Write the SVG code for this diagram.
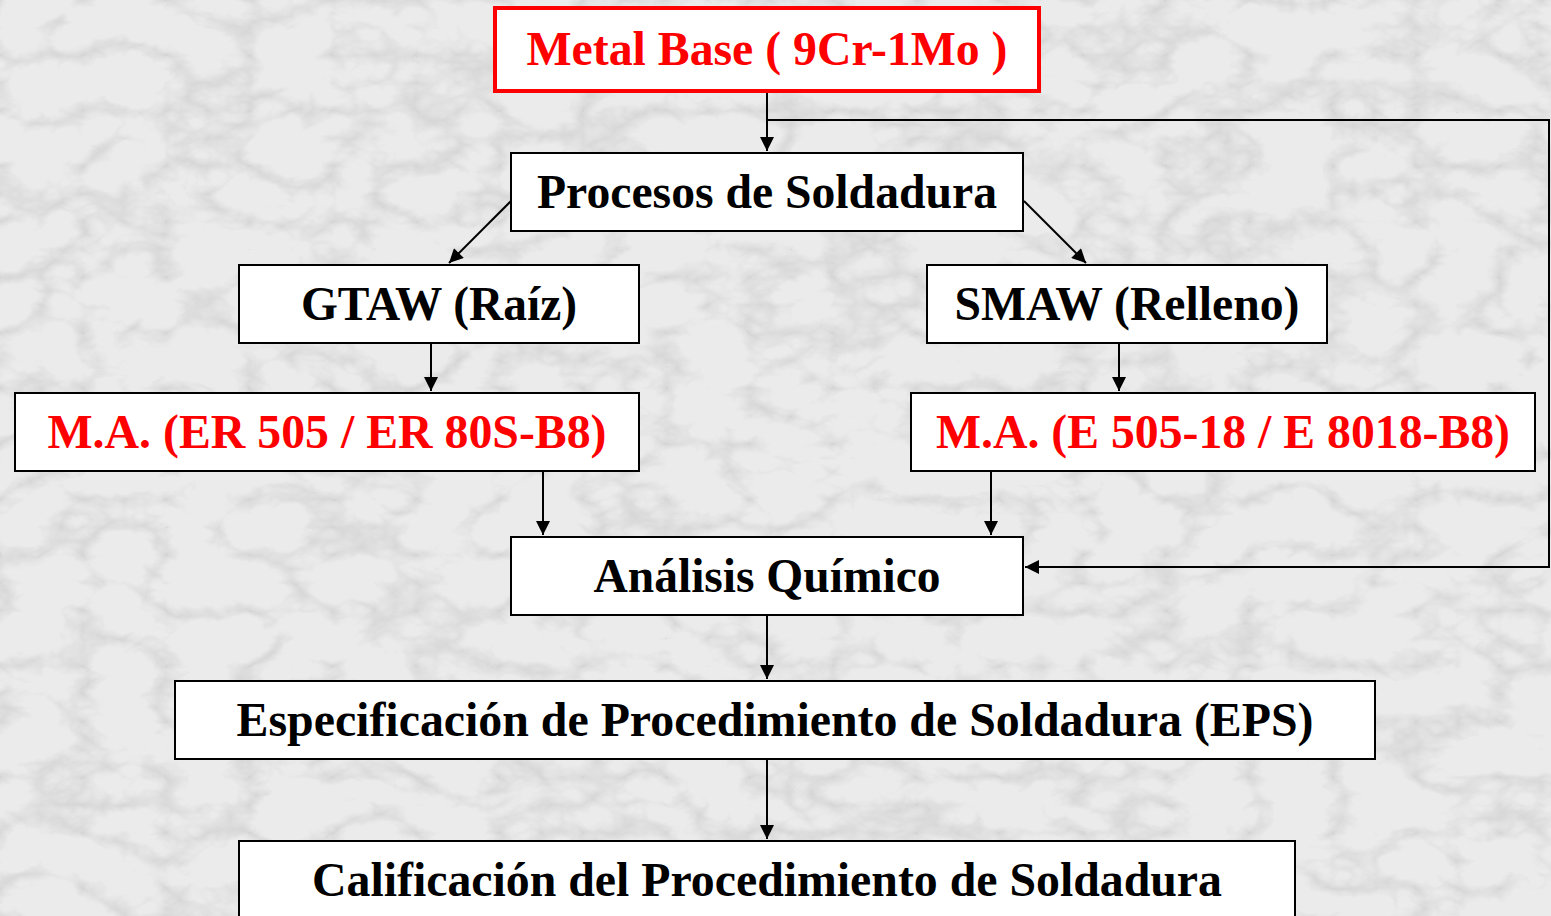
<svg xmlns="http://www.w3.org/2000/svg" width="1551" height="916" viewBox="0 0 1551 916">
<style>
.box{fill:#ffffff;stroke:#000000;stroke-width:2}
.rbox{fill:#ffffff;stroke:#ff0000;stroke-width:4}
.t{font-family:"Liberation Serif","Times New Roman",serif;font-weight:bold;font-size:48px;text-anchor:middle;fill:#000000}
.r{fill:#ff0000}
.c{fill:none;stroke:#000000;stroke-width:2}
</style>
<defs>
<marker id="arr" viewBox="0 0 10 10" refX="10" refY="5" markerWidth="16" markerHeight="14" markerUnits="userSpaceOnUse" orient="auto">
<path d="M0,0 L10,5 L0,10 z" fill="#000000"/>
</marker>
<filter id="marble" x="0" y="0" width="100%" height="100%">
<feTurbulence type="turbulence" baseFrequency="0.012 0.018" numOctaves="4" seed="11"/>
<feColorMatrix type="matrix" values="0 0 0 0 0.45  0 0 0 0 0.45  0 0 0 0 0.45  -1.6 0 0 0 0.55"/>
</filter>
</defs>
<rect x="0" y="0" width="1551" height="916" fill="#ebebeb"/>
<rect x="0" y="0" width="1551" height="916" filter="url(#marble)" opacity="0.7"/>

<g id="connectors">
<line class="c" x1="767" y1="92" x2="767" y2="151" marker-end="url(#arr)"/>
<polyline class="c" points="767,120 1549,120 1549,567 1025,567" marker-end="url(#arr)"/>
<line class="c" x1="511" y1="201" x2="449" y2="263" marker-end="url(#arr)"/>
<line class="c" x1="1024" y1="201" x2="1086" y2="263" marker-end="url(#arr)"/>
<line class="c" x1="431" y1="343" x2="431" y2="391" marker-end="url(#arr)"/>
<line class="c" x1="1119" y1="343" x2="1119" y2="391" marker-end="url(#arr)"/>
<line class="c" x1="543" y1="471" x2="543" y2="535" marker-end="url(#arr)"/>
<line class="c" x1="991" y1="471" x2="991" y2="535" marker-end="url(#arr)"/>
<line class="c" x1="767" y1="615" x2="767" y2="679" marker-end="url(#arr)"/>
<line class="c" x1="767" y1="759" x2="767" y2="839" marker-end="url(#arr)"/>
</g>

<g id="metal-base">
<rect class="rbox" x="495" y="8" width="544" height="83"/>
<text class="t r" x="767" y="65" textLength="481" lengthAdjust="spacingAndGlyphs">Metal Base ( 9Cr-1Mo )</text>
</g>
<g id="procesos">
<rect class="box" x="511" y="153" width="512" height="78"/>
<text class="t" x="767" y="208" textLength="460" lengthAdjust="spacingAndGlyphs">Procesos de Soldadura</text>
</g>
<g id="gtaw">
<rect class="box" x="239" y="265" width="400" height="78"/>
<text class="t" x="439" y="320" textLength="276" lengthAdjust="spacingAndGlyphs">GTAW (Raíz)</text>
</g>
<g id="smaw">
<rect class="box" x="927" y="265" width="400" height="78"/>
<text class="t" x="1127" y="320" textLength="345" lengthAdjust="spacingAndGlyphs">SMAW (Relleno)</text>
</g>
<g id="ma-gtaw">
<rect class="box" x="15" y="393" width="624" height="78"/>
<text class="t r" x="327" y="448" textLength="559" lengthAdjust="spacingAndGlyphs">M.A. (ER 505 / ER 80S-B8)</text>
</g>
<g id="ma-smaw">
<rect class="box" x="911" y="393" width="624" height="78"/>
<text class="t r" x="1223" y="448" textLength="574" lengthAdjust="spacingAndGlyphs">M.A. (E 505-18 / E 8018-B8)</text>
</g>
<g id="analisis">
<rect class="box" x="511" y="537" width="512" height="78"/>
<text class="t" x="767" y="592" textLength="347" lengthAdjust="spacingAndGlyphs">Análisis Químico</text>
</g>
<g id="eps">
<rect class="box" x="175" y="681" width="1200" height="78"/>
<text class="t" x="775" y="736" textLength="1077" lengthAdjust="spacingAndGlyphs">Especificación de Procedimiento de Soldadura (EPS)</text>
</g>
<g id="calificacion">
<rect class="box" x="239" y="841" width="1056" height="90"/>
<text class="t" x="767" y="896" textLength="910" lengthAdjust="spacingAndGlyphs">Calificación del Procedimiento de Soldadura</text>
</g>
</svg>
